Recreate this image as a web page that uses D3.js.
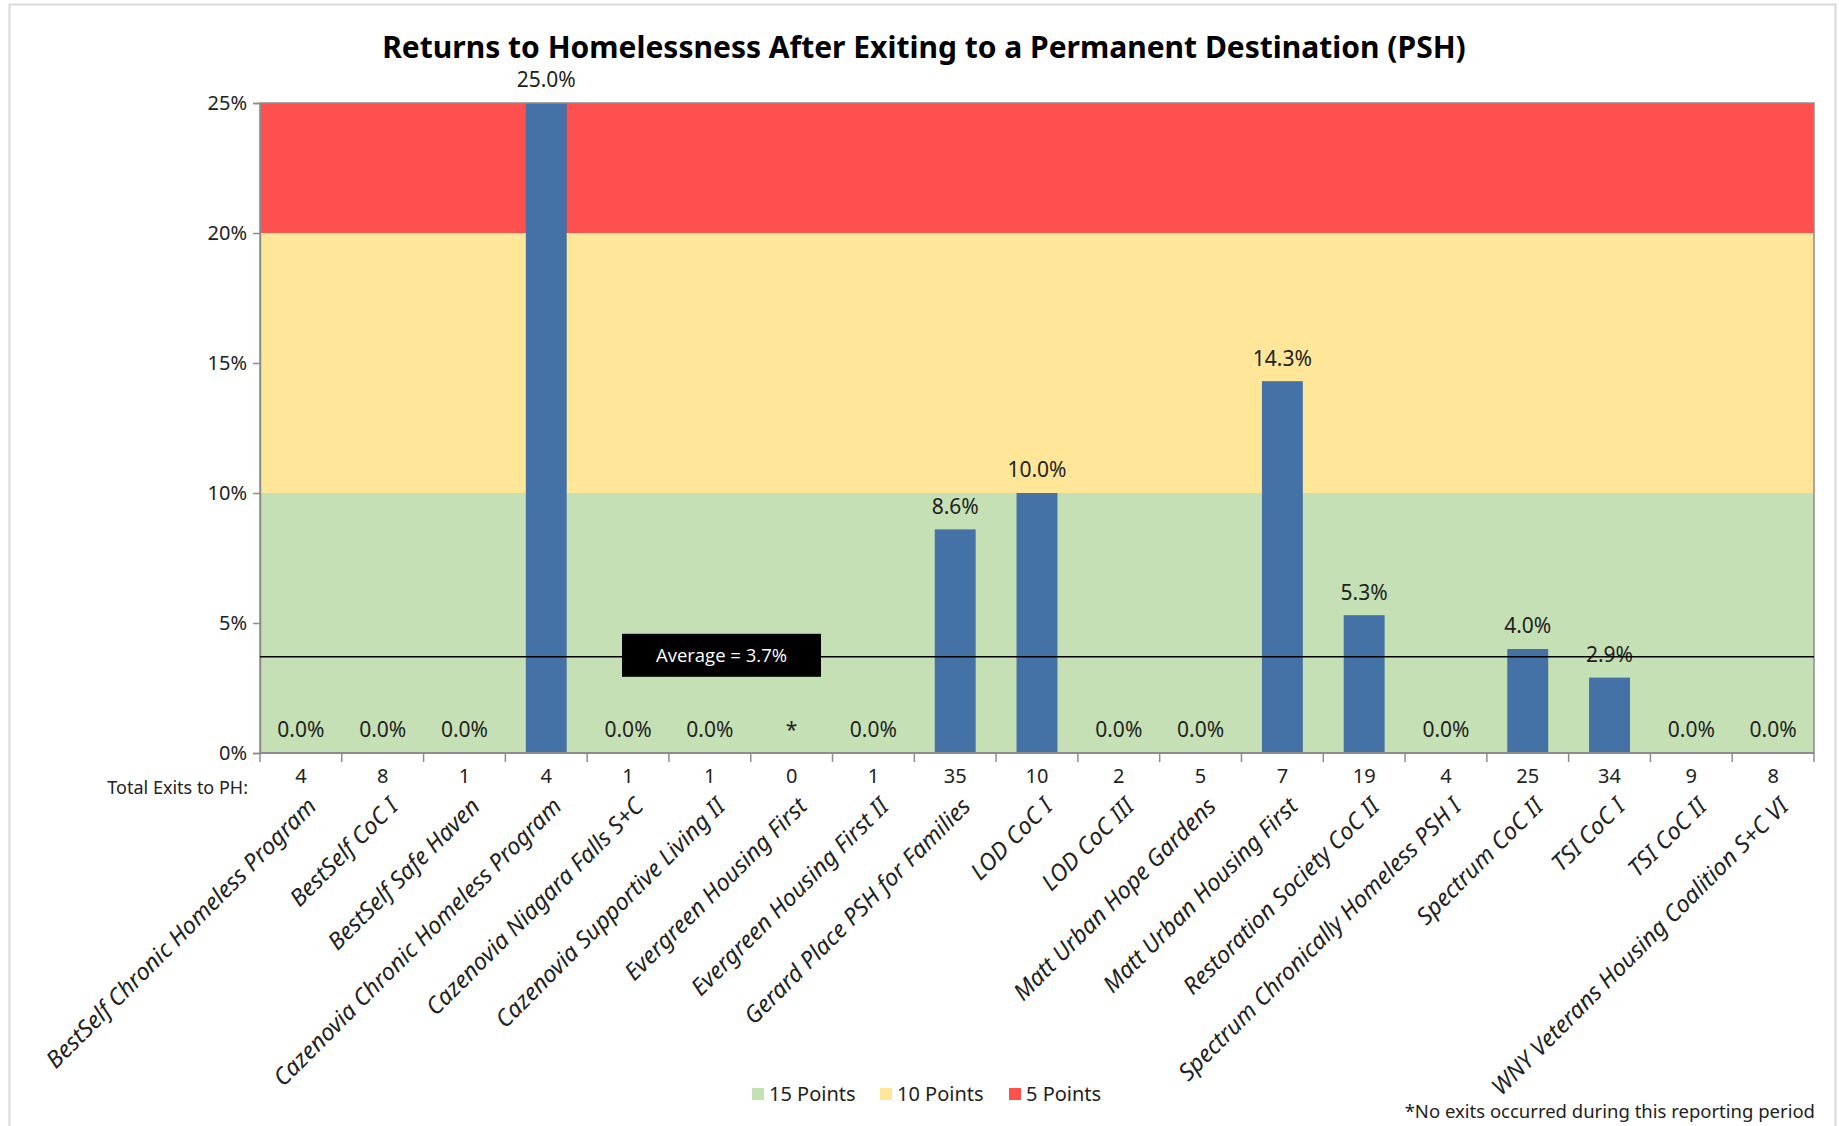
<!DOCTYPE html>
<html>
<head>
<meta charset="utf-8">
<script src="https://cdn.jsdelivr.net/npm/d3@7"></script>
<style>
body { margin: 0; background: #fff; }
svg { font-family: "Noto Sans", sans-serif; }
</style>
</head>
<body>
<div id="chart"></div>
<script>
// data
const programs = ["BestSelf Chronic Homeless Program", "BestSelf CoC I", "BestSelf Safe Haven",
  "Cazenovia Chronic Homeless Program", "Cazenovia Niagara Falls S+C", "Cazenovia Supportive Living II",
  "Evergreen Housing First", "Evergreen Housing First II", "Gerard Place PSH for Families",
  "LOD CoC I", "LOD CoC III", "Matt Urban Hope Gardens", "Matt Urban Housing First",
  "Restoration Society CoC II", "Spectrum Chronically Homeless PSH I", "Spectrum CoC II",
  "TSI CoC I", "TSI CoC II", "WNY Veterans Housing Coalition S+C VI"];
// null = no exits (shown as *)
const returnRate = [0, 0, 0, 25.0, 0, 0, null, 0, 8.6, 10.0, 0, 0, 14.3, 5.3, 0, 4.0, 2.9, 0, 0];
const totalExits = [4, 8, 1, 4, 1, 1, 0, 1, 35, 10, 2, 5, 7, 19, 4, 25, 34, 9, 8];
const average = 3.7;
const yTicks = [0, 5, 10, 15, 20, 25];
const bands = [
  {name: "15 Points", from: 0, to: 10, color: "#C5E0B4"},
  {name: "10 Points", from: 10, to: 20, color: "#FFE699"},
  {name: "5 Points", from: 20, to: 25, color: "#FF5050"}
];

const W = 1839, H = 1126;
const margin = {top: 103, right: 25, bottom: 373, left: 260};
const width = 1814 - margin.left;
const height = 753 - margin.top;

const svg = d3.select("#chart").append("svg")
  .attr("width", W)
  .attr("height", H);

// outer frame
svg.append("rect")
  .attr("x", 9.5).attr("y", 4.5)
  .attr("width", 1826).attr("height", 1130)
  .attr("fill", "none")
  .attr("stroke", "#d9d9d9")
  .attr("stroke-width", 2);

const g = svg.append("g")
  .attr("transform", "translate(" + margin.left + "," + margin.top + ")");

const x = d3.scaleBand()
  .domain(programs)
  .range([0, width])
  .paddingInner(0.5)
  .paddingOuter(0.25);

const y = d3.scaleLinear()
  .domain([0, 25])
  .range([height, 0]);

// point bands
g.selectAll(".band")
  .data(bands)
  .enter().append("rect")
  .attr("class", "band")
  .attr("x", 0)
  .attr("width", width)
  .attr("y", d => y(d.to))
  .attr("height", d => y(d.from) - y(d.to))
  .attr("fill", d => d.color);

// bars
g.selectAll(".bar")
  .data(programs)
  .enter().append("rect")
  .attr("class", "bar")
  .attr("x", d => x(d))
  .attr("width", x.bandwidth())
  .attr("y", (d, i) => y(returnRate[i] || 0))
  .attr("height", (d, i) => height - y(returnRate[i] || 0))
  .attr("fill", "#4471A6");

// plot border
g.append("rect")
  .attr("x", 0).attr("y", 0)
  .attr("width", width).attr("height", height)
  .attr("fill", "none")
  .attr("stroke", "#8c8c8c")
  .attr("stroke-width", 1.5);

// y axis
const yAxis = d3.axisLeft(y)
  .tickValues(yTicks)
  .tickSize(7)
  .tickPadding(6)
  .tickFormat(d => d + "%");
g.append("g")
  .attr("class", "y axis")
  .call(yAxis)
  .call(a => a.selectAll("line, path").attr("stroke", "#8c8c8c").attr("stroke-width", 1.5))
  .call(a => a.selectAll("text").style("font-size", "20px").attr("fill", "#222"))
  .attr("font-family", null);

// x axis: ticks at category boundaries
const step = x.step();
const boundaries = d3.range(programs.length + 1).map(i => i * step);
g.selectAll(".xtick")
  .data(boundaries)
  .enter().append("line")
  .attr("class", "xtick")
  .attr("x1", d => d).attr("x2", d => d)
  .attr("y1", height).attr("y2", height + 9)
  .attr("stroke", "#8c8c8c")
  .attr("stroke-width", 1.5);
g.append("line")
  .attr("x1", 0).attr("x2", width)
  .attr("y1", height).attr("y2", height)
  .attr("stroke", "#8c8c8c")
  .attr("stroke-width", 2);

// value labels
g.selectAll(".label")
  .data(programs)
  .enter().append("text")
  .attr("class", "label")
  .attr("x", d => x(d) + x.bandwidth() / 2)
  .attr("y", (d, i) => returnRate[i] ? y(returnRate[i]) - 23 : height - 23)
  .attr("dy", "0.35em")
  .attr("text-anchor", "middle")
  .style("font-size", "21px")
  .attr("fill", "#222")
  .text((d, i) => returnRate[i] === null ? "*" : returnRate[i].toFixed(1) + "%");

// average line
g.append("line")
  .attr("x1", 0).attr("x2", width)
  .attr("y1", y(average)).attr("y2", y(average))
  .attr("stroke", "#000")
  .attr("stroke-width", 1.5);
g.append("rect")
  .attr("x", 362).attr("y", y(average) - 23)
  .attr("width", 199).attr("height", 43)
  .attr("fill", "#000");
g.append("text")
  .attr("x", 362 + 199 / 2).attr("y", y(average) - 1)
  .attr("dy", "0.35em")
  .attr("text-anchor", "middle")
  .style("font-family", "'Open Sans', sans-serif")
  .style("font-size", "18.5px")
  .attr("fill", "#fff")
  .text("Average = " + average + "%");

// total exits row
g.append("text")
  .attr("x", -12).attr("y", height + 35)
  .attr("dy", "0.35em")
  .attr("text-anchor", "end")
  .style("font-size", "18px")
  .attr("fill", "#222")
  .text("Total Exits to PH:");
g.selectAll(".exits")
  .data(programs)
  .enter().append("text")
  .attr("class", "exits")
  .attr("x", d => x(d) + x.bandwidth() / 2)
  .attr("y", height + 23)
  .attr("dy", "0.35em")
  .attr("text-anchor", "middle")
  .style("font-size", "20px")
  .attr("fill", "#222")
  .text((d, i) => totalExits[i]);

// category labels
g.selectAll(".cat")
  .data(programs)
  .enter().append("text")
  .attr("class", "cat")
  .attr("transform", d => "translate(" + (x(d) + x.bandwidth() / 2 + 6) + "," + (height + 44) + ") rotate(-45)")
  .attr("text-anchor", "end")
  .attr("dy", "0.65em")
  .style("font-size", "23.5px")
  .style("font-style", "italic")
  .attr("fill", "#222")
  .text(d => d);

// title
svg.append("text")
  .attr("x", 924).attr("y", 47)
  .attr("dy", "0.35em")
  .attr("text-anchor", "middle")
  .style("font-size", "30px")
  .style("font-weight", "bold")
  .attr("fill", "#000")
  .text("Returns to Homelessness After Exiting to a Permanent Destination (PSH)");

// legend
const legend = svg.append("g").attr("transform", "translate(752,1094)");
const legendX = [0, 128, 257];
legend.selectAll(".lg")
  .data(bands)
  .enter().append("g")
  .attr("transform", (d, i) => "translate(" + legendX[i] + ",0)")
  .each(function (d) {
    d3.select(this).append("rect")
      .attr("x", 0).attr("y", -6)
      .attr("width", 12).attr("height", 12)
      .attr("fill", d.color);
    d3.select(this).append("text")
      .attr("x", 17).attr("y", 0)
      .attr("dy", "0.35em")
      .style("font-size", "20px")
      .attr("fill", "#222")
      .text(d.name);
  });

// footnote
svg.append("text")
  .attr("x", 1815).attr("y", 1112)
  .attr("dy", "0.35em")
  .attr("text-anchor", "end")
  .style("font-size", "18.5px")
  .attr("fill", "#222")
  .text("*No exits occurred during this reporting period");
</script>
</body>
</html>
